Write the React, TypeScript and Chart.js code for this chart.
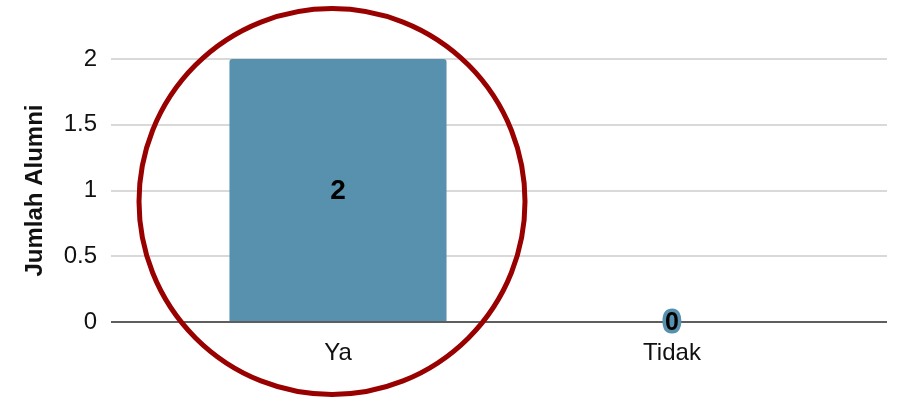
import { useEffect, useRef } from "react";
import { Chart, registerables } from "chart.js";

Chart.register(...registerables);

const categories = ["Ya", "Tidak"];
const values = [2, 0];
const yTicks = [0, 0.5, 1, 1.5, 2];
const yTitle = "Jumlah Alumni";

const BAR = "#5891ae";
const FONT = "'Liberation Sans', Arial, sans-serif";

const gridPlugin = {
  id: "extGrid",
  beforeDatasetsDraw(chart: any) {
    const { ctx, chartArea, scales } = chart;
    const y = scales.y;
    const x0 = chartArea.left - 60;
    const x1 = chartArea.right + 48;
    ctx.save();
    ctx.strokeStyle = "#d9d9d9";
    ctx.lineWidth = 2;
    y.ticks.forEach((t: any) => {
      if (t.value === 0) return;
      const py = Math.round(y.getPixelForValue(t.value));
      ctx.beginPath();
      ctx.moveTo(x0, py);
      ctx.lineTo(x1, py);
      ctx.stroke();
    });
    ctx.restore();
  },
  afterDatasetsDraw(chart: any) {
    const { ctx, chartArea, scales } = chart;
    const y = scales.y;
    const x0 = chartArea.left - 60;
    const x1 = chartArea.right + 48;
    const py = Math.round(y.getPixelForValue(0));
    ctx.save();
    ctx.strokeStyle = "#5e5e5e";
    ctx.lineWidth = 2;
    ctx.beginPath();
    ctx.moveTo(x0, py);
    ctx.lineTo(x1, py);
    ctx.stroke();
    ctx.restore();

    // data labels
    const meta = chart.getDatasetMeta(0);
    ctx.save();
    ctx.textAlign = "center";
    ctx.textBaseline = "middle";
    meta.data.forEach((el: any, i: number) => {
      const v = values[i];
      const cx = el.x;
      const cy = (el.y + el.base) / 2;
      ctx.font = `bold ${v === 0 ? 25 : 28}px ${FONT}`;
      ctx.lineJoin = "round";
      ctx.lineWidth = 7;
      ctx.strokeStyle = BAR;
      ctx.strokeText(String(v), cx, cy + 1);
      ctx.fillStyle = "#000000";
      ctx.fillText(String(v), cx, cy + 1);
    });
    ctx.restore();
  },
  afterDraw(chart: any) {
    const { ctx, scales } = chart;
    const meta = chart.getDatasetMeta(0);
    const bar = meta.data[0];
    const cx = bar.x - 6;
    const cy = scales.y.getPixelForValue(1) + 11;
    ctx.save();
    ctx.strokeStyle = "#990000";
    ctx.lineWidth = 5;
    ctx.beginPath();
    ctx.arc(cx, cy, 193, 0, Math.PI * 2);
    ctx.stroke();
    ctx.restore();
  },
};

export default function App() {
  const ref = useRef<HTMLCanvasElement | null>(null);

  useEffect(() => {
    if (!ref.current) return;
    const chart = new Chart(ref.current, {
      type: "bar",
      data: {
        labels: categories,
        datasets: [
          {
            data: values,
            backgroundColor: BAR,
            borderRadius: { topLeft: 3, topRight: 3, bottomLeft: 0, bottomRight: 0 },
            borderSkipped: false,
            categoryPercentage: 1,
            barPercentage: 0.65,
          },
        ],
      },
      options: {
        animation: false,
        responsive: true,
        maintainAspectRatio: false,
        layout: { padding: { top: 59, right: 67, bottom: 0, left: 0 } },
        plugins: {
          legend: { display: false },
          tooltip: { enabled: false },
        },
        scales: {
          x: {
            grid: { display: false, drawTicks: false },
            border: { display: false },
            ticks: {
              color: "#111111",
              padding: 17,
              font: { family: FONT, size: 24 },
            },
            afterFit: (s: any) => {
              s.height = 75;
              s.paddingTop = 0;
              s.paddingBottom = 0;
            },
          },
          y: {
            min: 0,
            max: 2,
            grid: { display: false, drawTicks: false },
            border: { display: false },
            afterBuildTicks: (s: any) => {
              s.ticks = yTicks.map((v) => ({ value: v }));
            },
            ticks: {
              color: "#111111",
              padding: 74,
              font: { family: FONT, size: 24 },
              callback: (v: any) => String(v),
            },
            title: {
              display: true,
              text: yTitle,
              color: "#111111",
              padding: { top: 21, bottom: 0 },
              font: { family: FONT, size: 24, weight: "bold" },
            },
            afterFit: (s: any) => {
              s.width = 171;
              s.paddingTop = 0;
              s.paddingBottom = 0;
            },
          },
        },
      },
      plugins: [gridPlugin],
    });
    return () => chart.destroy();
  }, []);

  return (
    <div style={{ position: "fixed", left: 0, top: 0, width: 906, height: 397, background: "#ffffff" }}>
      <canvas ref={ref} />
    </div>
  );
}
